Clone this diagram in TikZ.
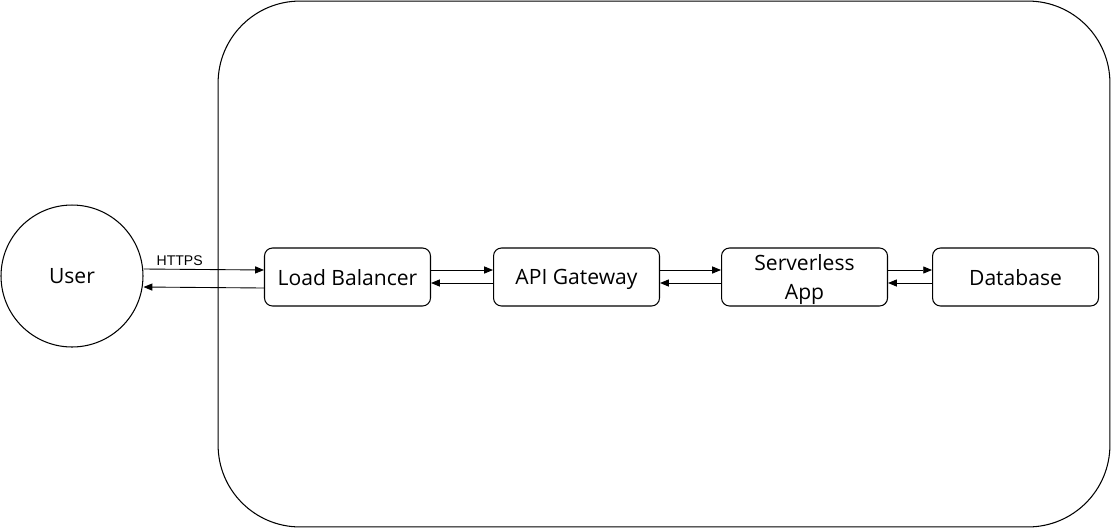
\documentclass[tikz,border=0pt]{standalone}
\usepackage{fontspec}
\setmainfont{Open Sans}
\newfontfamily\httpsfont{Liberation Sans}
\usepackage{tikz}
\usetikzlibrary{positioning,arrows.meta}

\begin{document}
\begin{tikzpicture}[x=0.02cm,y=-0.02cm]
    \tikzstyle{box} = [rectangle, rounded corners=0.16cm, minimum width=3.32cm, minimum height=1.16cm, text centered, align=center, text depth=0pt, draw=black, line width=0.6pt, font=\fontsize{12}{16.5}\selectfont, inner sep=0pt]
    \tikzstyle{arrow} = [line width=0.5pt,-{Triangle[length=5pt,width=4pt]}]
    \useasboundingbox (0,0) rectangle (1111,528);
        \node (cloud) [rectangle, rounded corners=1.64cm, minimum width=17.84cm, minimum height=10.52cm, draw=black, line width=0.6pt] at (664,264) {};
        \node (user) [circle, minimum size=2.84cm, draw=black, line width=0.6pt, inner sep=0pt, font=\fontsize{12}{14}\selectfont] at (72,276) {User};
        \node (lb) [box] at (347.5,277) {Load Balancer};
        \node (api) [box,right=1.24cm of lb] {API Gateway};
        \node (app) [box,right=1.22cm of api] {Serverless\\App};
        \node (db) [box,right=0.88cm of app] {Database};
        \draw[arrow] ([yshift=0.14cm]user.east) -- node[above,font=\httpsfont\fontsize{8}{9}\selectfont,pos=0.3,inner sep=2pt]{HTTPS} ([yshift=0.14cm]lb.west);
        \draw[arrow] ([yshift=-0.22cm]lb.west) -- ([yshift=-0.22cm]user.east);
        \draw[arrow] ([yshift=0.14cm]lb.east) -- ([yshift=0.14cm]api.west);
        \draw[arrow] ([yshift=-0.12cm]api.west) -- ([yshift=-0.12cm]lb.east);
        \draw[arrow] ([yshift=0.14cm]api.east) -- ([yshift=0.14cm]app.west);
        \draw[arrow] ([yshift=-0.12cm]app.west) -- ([yshift=-0.12cm]api.east);
        \draw[arrow] ([yshift=0.14cm]app.east) -- ([yshift=0.14cm]db.west);
        \draw[arrow] ([yshift=-0.12cm]db.west) -- ([yshift=-0.12cm]app.east);
\end{tikzpicture}
\end{document}
